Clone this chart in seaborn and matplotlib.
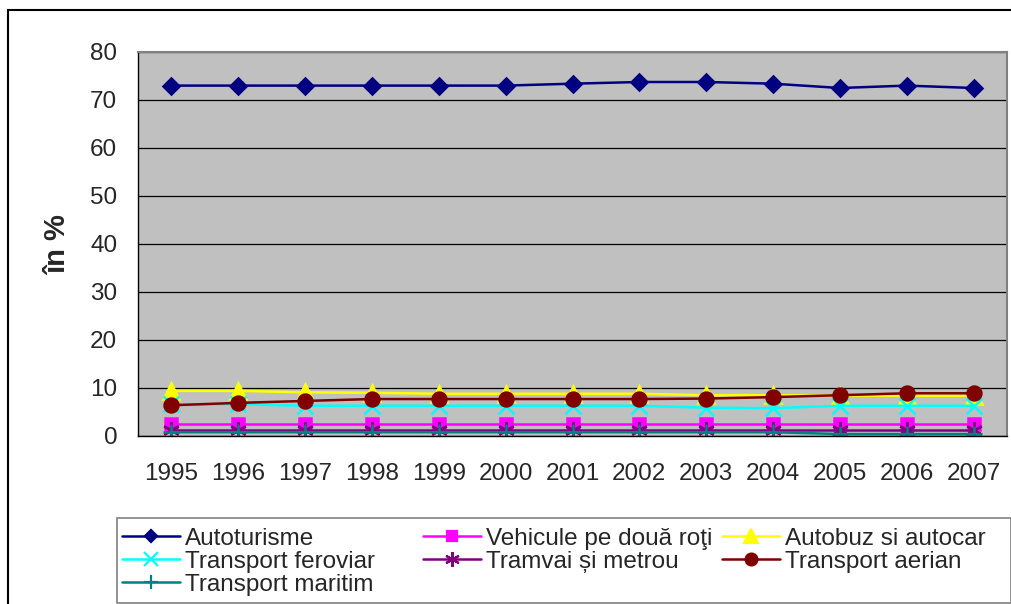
import matplotlib
matplotlib.use("Agg")
import matplotlib.pyplot as plt
from matplotlib.patches import Rectangle
from matplotlib.lines import Line2D
import seaborn as sns
import pandas as pd

years = [1995, 1996, 1997, 1998, 1999, 2000, 2001, 2002, 2003, 2004, 2005, 2006, 2007]
autoturisme = [73.0, 73.0, 73.0, 73.0, 73.0, 73.0, 73.4, 73.75, 73.75, 73.4, 72.5, 73.0, 72.5]
vehicule = [2.5] * 13
autobuz = [9.4, 9.4, 9.1, 9.0, 8.8, 8.8, 8.8, 8.8, 8.5, 8.5, 8.4, 8.4, 8.4]
feroviar = [6.6, 6.6, 6.3, 6.3, 6.3, 6.3, 6.3, 6.3, 5.9, 5.8, 6.3, 6.3, 6.3]
tramvai = [1.2] * 13
aerian = [6.4, 6.9, 7.3, 7.7, 7.7, 7.7, 7.7, 7.7, 7.8, 8.1, 8.5, 8.9, 8.9]
maritim = [0.8, 0.8, 0.8, 0.8, 0.8, 0.8, 0.8, 0.8, 0.8, 0.8, 0.4, 0.4, 0.4]

labels = ["Autoturisme", "Vehicule pe două roţi", "Autobuz si autocar",
          "Transport feroviar", "Tramvai și metrou", "Transport aerian",
          "Transport maritim"]
series = [autoturisme, vehicule, autobuz, feroviar, tramvai, aerian, maritim]
colors = ["#000080", "#FF00FF", "#FFFF00", "#00FFFF", "#800080", "#800000", "#008080"]
markers = ["D", "s", "^", "x", (6, 2, 0), "o", "+"]
msizes = [8, 9, 12, 11, 12, 10, 12]

sns.set_style("white")
plt.rcParams["font.family"] = ["Liberation Sans", "DejaVu Sans"]

fig = plt.figure(figsize=(10.12, 6.04), dpi=100)
ax = fig.add_axes([138 / 1012, 1 - 436 / 604, (1007 - 138) / 1012, (436 - 52) / 604])
ax.set_facecolor("#C0C0C0")

xpos = list(range(len(years)))
handles = []
for lab, vals, col, mk, ms in zip(labels, series, colors, markers, msizes):
    df = pd.DataFrame({"x": xpos, "y": vals})
    sns.lineplot(data=df, x="x", y="y", ax=ax, color=col, marker=mk, markersize=ms,
                 markeredgecolor=col, markeredgewidth=1.8, linewidth=1.8, legend=False)
    handles.append(Line2D([], [], color=col, marker=mk, markersize=ms - 1.5,
                          markeredgecolor=col, markeredgewidth=1.6, linewidth=1.8, label=lab))

ax.set_xlim(-0.5, len(years) - 0.5)
ax.set_ylim(0, 80)
ax.set_yticks(range(0, 81, 10))
ax.set_xticks(xpos)
ax.set_xticklabels([str(y) for y in years])
ax.set_xticks([i - 0.5 for i in range(len(years) + 1)], minor=True)
ax.tick_params(axis="x", which="major", length=0, pad=19.5, labelsize=17.5)
ax.tick_params(axis="x", which="minor", length=6, width=1, color="black", direction="out")
ax.tick_params(axis="y", length=6, width=1, color="black", direction="out", pad=9, labelsize=17.5)
ax.yaxis.grid(True, color="black", linewidth=0.9)
ax.set_axisbelow(True)
ax.set_xlabel("")
ax.set_ylabel("")
for s in ["left", "bottom"]:
    ax.spines[s].set_color("black")
    ax.spines[s].set_linewidth(1)
    ax.spines[s].set_visible(True)
for s in ["top", "right"]:
    ax.spines[s].set_color("#808080")
    ax.spines[s].set_linewidth(1.5)
    ax.spines[s].set_visible(True)

fig.text(58 / 1012, 1 - 245 / 604, "în %", rotation=90, ha="center", va="center",
         fontsize=21, fontweight="bold")

# figure border
fig.patches.append(Rectangle((8 / 1012, -0.05), 1.2, 1 - 10 / 604 + 0.05,
                             transform=fig.transFigure, fill=False, edgecolor="black",
                             linewidth=1.5))
# legend frame
fig.patches.append(Rectangle((117 / 1012, 1 - 603 / 604), (1011 - 117) / 1012, 85 / 604,
                             transform=fig.transFigure, fill=True, facecolor="white",
                             edgecolor="#808080", linewidth=1.2, zorder=2))

cols = [[0, 3, 6], [1, 4], [2, 5]]
xstarts = [122, 423, 722]
for idx, xs in zip(cols, xstarts):
    lg = fig.legend(handles=[handles[i] for i in idx], loc="upper left",
                    bbox_to_anchor=(xs / 1012, 1 - 527.5 / 604),
                    frameon=False, fontsize=17.5, borderpad=0, borderaxespad=0,
                    handlelength=2.4, handletextpad=0.2, labelspacing=0.05)
    lg.set_zorder(3)

fig.savefig("out.png", dpi=100)
